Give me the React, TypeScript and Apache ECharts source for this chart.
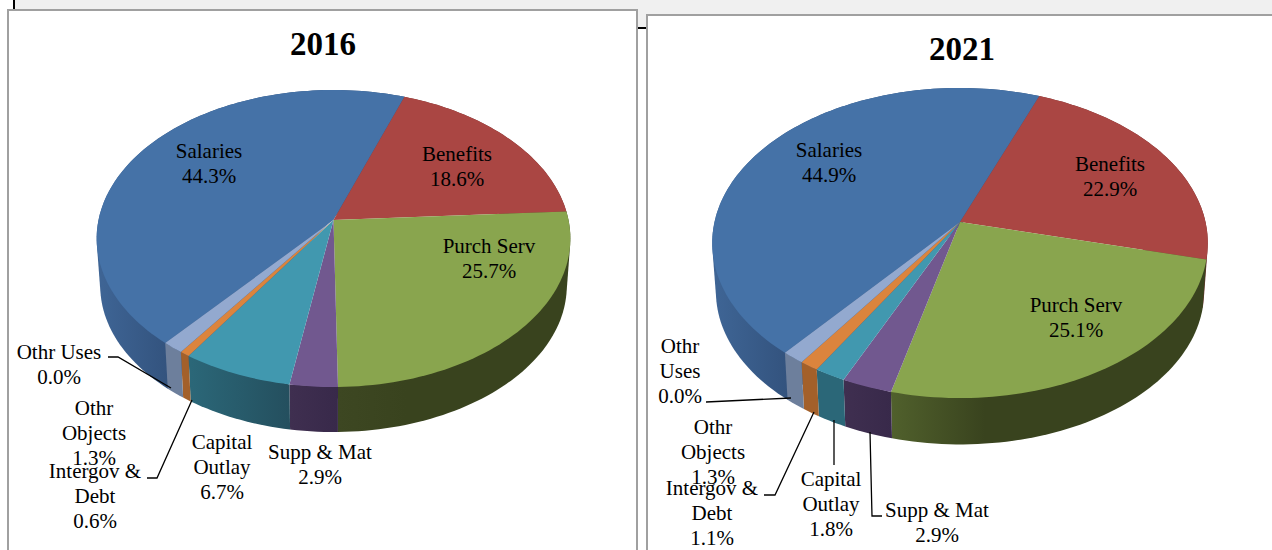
import React, { useEffect, useRef } from "react";
import * as echarts from "echarts";

const labels2016 = ["Salaries", "Benefits", "Purch Serv", "Supp & Mat", "Capital\nOutlay", "Intergov &\nDebt", "Othr\nObjects", "Othr Uses"];
const labels2021 = ["Salaries", "Benefits", "Purch Serv", "Supp & Mat", "Capital\nOutlay", "Intergov &\nDebt", "Othr\nObjects", "Othr\nUses"];
const values2016 = [44.3, 18.6, 25.7, 2.9, 6.7, 0.6, 1.3, 0.0];
const values2021 = [44.9, 22.9, 25.1, 2.9, 1.8, 1.1, 1.3, 0.0];
const topColors = ["#4572a7", "#aa4643", "#89a54e", "#71588f", "#4198af", "#db843d", "#93a9cf", "#93a9cf"];
// left-to-right colours of each slice's side wall
const sideColors2016: string[][] = [
  ["#3e6494", "#33537e"],
  ["#6e2e2c", "#6e2e2c"],
  ["#3d4722", "#39431e"],
  ["#3f2f50", "#38294a"],
  ["#2b6778", "#244f5e"],
  ["#a3602a", "#a3602a"],
  ["#6d7f9c", "#6d7f9c"],
  ["#6d7f9c", "#6d7f9c"],
];
const sideColors2021: string[][] = [
  ["#3e6494", "#33537e"],
  ["#6e2e2c", "#6e2e2c"],
  ["#50602c", "#39431e"],
  ["#3f2f50", "#38294a"],
  ["#2b6778", "#2b6778"],
  ["#a3602a", "#a3602a"],
  ["#6d7f9c", "#6d7f9c"],
  ["#6d7f9c", "#6d7f9c"],
];

const geom2016 = { cx: 333.5, cy: 220, a: 235, b: 146.2, k: 0.1246, start: 220.4, s: 0.985, d: 47.5 };
const geom2021 = { cx: 960, cy: 222, a: 245.5, b: 152.2, k: 0.1355, start: 219.7, s: 0.985, d: 49 };

const labelPos2016 = [[209, 163], [457, 166], [489, 258], [320, 464], [222, 467], [95, 496], [94, 433], [59, 364]];
const labelPos2021 = [[829, 162], [1110, 176], [1076, 317], [937, 522], [831, 504], [712, 513], [713, 452], [680, 371]];

const leaders2016 = [[[108, 357], [118, 357], [171, 388]], [[192, 400], [157, 478], [147, 478]]];
const leaders2021 = [
  [[706, 402], [791, 398]],
  [[814, 412], [775, 495], [764, 495]],
  [[834, 420], [834, 465]],
  [[870, 432], [872, 516], [882, 516]],
];

const FONT = '"Liberation Serif", serif';

function project(g: any, deg: number, lower: boolean) {
  const t = (deg * Math.PI) / 180;
  const u = Math.sin(t);
  const v = -Math.cos(t);
  const w = 1 - g.k * v;
  const X = (g.a * u) / w;
  const Y = (g.b * v) / w;
  return lower ? [g.cx + X * g.s, g.cy + Y * g.s + g.d] : [g.cx + X, g.cy + Y];
}

function arc(g: any, from: number, to: number, lower: boolean) {
  const out: number[][] = [];
  const n = Math.max(1, Math.ceil((to - from) / 1.5));
  for (let i = 0; i <= n; i++) out.push(project(g, from + ((to - from) * i) / n, lower));
  return out;
}

function hull(points: number[][]) {
  const p = [...points].sort((a, b) => a[0] - b[0] || a[1] - b[1]);
  const cross = (o: number[], a: number[], b: number[]) => (a[0] - o[0]) * (b[1] - o[1]) - (a[1] - o[1]) * (b[0] - o[0]);
  const build = (list: number[][]) => {
    const out: number[][] = [];
    for (const q of list) {
      while (out.length >= 2 && cross(out[out.length - 2], out[out.length - 1], q) <= 0) out.pop();
      out.push(q);
    }
    out.pop();
    return out;
  };
  return [...build(p), ...build([...p].reverse())];
}

function slices(values: number[], g: any) {
  const total = values.reduce((p, c) => p + c, 0);
  let angle = g.start;
  return values.map((v) => {
    const from = angle;
    angle += (v / total) * 360;
    return [from, angle];
  });
}

// rim angle r (clockwise from top, may exceed 360) folded so that the front half is 90..270
function frontRange(from: number, to: number) {
  const base = Math.floor(from / 360) * 360;
  let a = from - base;
  let b = to - base;
  if (a >= 270) {
    a -= 360;
    b -= 360;
  }
  return [Math.max(a, 90), Math.min(b, 270)];
}

function pieSeries(values: number[], g: any, sideColors: string[][]) {
  const ranges = slices(values, g);
  return [
    {
      type: "custom",
      coordinateSystem: "none",
      silent: true,
      z: 3,
      data: values,
      renderItem: (params: any) => {
        const i = params.dataIndex;
        const [from, to] = ranges[i];
        if (to - from < 0.01) return null;
        const [fa, fb] = frontRange(from, to);
        const x0 = project(g, fa, true)[0];
        const x1 = project(g, Math.max(fb, fa + 0.5), true)[0];
        const pts = [...arc(g, from, to, false), ...arc(g, from, to, true)];
        return {
          type: "polygon",
          shape: { points: hull(pts) },
          style: {
            fill: new echarts.graphic.LinearGradient(
              Math.min(x0, x1), 0, Math.max(x0, x1), 0,
              [
                { offset: 0, color: sideColors[i][0] },
                { offset: i === 2 ? 0.3 : 1, color: sideColors[i][1] },
                { offset: 1, color: sideColors[i][1] },
              ],
              true,
            ),
          },
        };
      },
    },
    {
      type: "custom",
      coordinateSystem: "none",
      silent: true,
      z: 4,
      data: values,
      renderItem: (params: any) => {
        const i = params.dataIndex;
        const [from, to] = ranges[i];
        if (to - from < 0.01) return null;
        return {
          type: "polygon",
          shape: { points: [[g.cx, g.cy], ...arc(g, from, to, false)] },
          style: { fill: topColors[i] },
        };
      },
    },
  ];
}

function labelSeries(values: number[], names: string[], pos: number[][]) {
  return {
    type: "custom",
    coordinateSystem: "none",
    silent: true,
    z: 6,
    data: values,
    renderItem: (params: any) => {
      const i = params.dataIndex;
      return {
        type: "text",
        style: {
          x: pos[i][0],
          y: pos[i][1],
          text: `${names[i]}\n${values[i].toFixed(1)}%`,
          align: "center",
          verticalAlign: "middle",
          lineHeight: 25,
          fontSize: 21,
          fontFamily: FONT,
          fill: "#000",
        },
      };
    },
  };
}

function leaderSeries(lines: number[][][]) {
  return {
    type: "custom",
    coordinateSystem: "none",
    silent: true,
    z: 5,
    data: lines.map((_, i) => i),
    renderItem: (params: any) => ({
      type: "polyline",
      shape: { points: lines[params.dataIndex] },
      style: { stroke: "#000", lineWidth: 1.3, fill: "none" },
    }),
  };
}

export default function App() {
  const ref = useRef<HTMLDivElement>(null);
  useEffect(() => {
    const chart = echarts.init(ref.current!, undefined, { renderer: "svg" });
    chart.setOption({
      animation: false,
      backgroundColor: "#ffffff",
      title: [
        { text: "2016", left: 318, top: 22, textAlign: "center", textStyle: { fontFamily: FONT, fontSize: 33, fontWeight: "bold", color: "#000" } },
        { text: "2021", left: 957, top: 27, textAlign: "center", textStyle: { fontFamily: FONT, fontSize: 33, fontWeight: "bold", color: "#000" } },
      ],
      graphic: [
        { type: "rect", shape: { x: 15, y: 0, width: 1257, height: 15 }, style: { fill: "#f0f0f0" }, silent: true },
        { type: "rect", shape: { x: 637, y: 0, width: 10, height: 27 }, style: { fill: "#f0f0f0" }, silent: true },
        { type: "line", shape: { x1: 14, y1: 0, x2: 14, y2: 10 }, style: { stroke: "#000", lineWidth: 2 }, silent: true },
        { type: "line", shape: { x1: 637, y1: 28, x2: 647, y2: 28 }, style: { stroke: "#000", lineWidth: 2 }, silent: true },
        { type: "rect", shape: { x: 8, y: 10, width: 629, height: 560 }, style: { fill: "#fff", stroke: "#a0a0a0", lineWidth: 2 }, silent: true },
        { type: "rect", shape: { x: 647, y: 15, width: 640, height: 560 }, style: { fill: "#fff", stroke: "#a0a0a0", lineWidth: 2 }, silent: true },
      ],
      series: [
        ...pieSeries(values2016, geom2016, sideColors2016),
        ...pieSeries(values2021, geom2021, sideColors2021),
        leaderSeries(leaders2016),
        leaderSeries(leaders2021),
        labelSeries(values2016, labels2016, labelPos2016),
        labelSeries(values2021, labels2021, labelPos2021),
      ],
    });
    return () => chart.dispose();
  }, []);
  return <div ref={ref} style={{ position: "fixed", left: 0, top: 0, width: 1272, height: 550 }} />;
}
